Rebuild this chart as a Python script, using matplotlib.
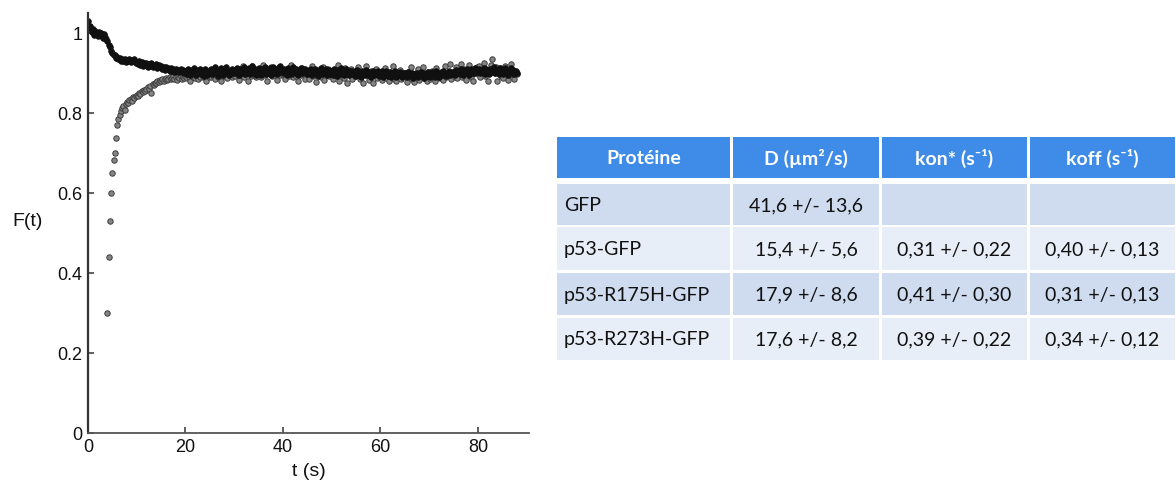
import numpy as np
import matplotlib
matplotlib.use("Agg")
import matplotlib.pyplot as plt
from matplotlib.patches import Rectangle

# ---------------- data ----------------
dt = 0.25
dark_start = 0.0
# F(t) x 1000 for the dark (filled) series, one value every 0.25 s from 0 s
dark_permille = [
    1030, 1012, 1018, 1003, 1010, 996, 1006, 1000, 992, 1003, 995, 999, 988, 997, 991, 986, 980, 969, 964, 955,
    950, 944, 945, 938, 940, 934, 938, 931, 936, 929, 935, 928, 933, 930, 936, 927, 933, 929, 935, 926,
    928, 922, 930, 920, 927, 918, 926, 921, 924, 916, 923, 918, 925, 914, 921, 917, 922, 912, 919, 915,
    917, 909, 916, 907, 914, 910, 912, 905, 913, 906, 911, 903, 910, 905, 908, 902, 909, 904, 907, 900,
    906, 898, 910, 901, 895, 908, 899, 912, 903, 894, 907, 900, 911, 897, 904, 893, 909, 902, 896, 906,
    903, 911, 897, 906, 914, 899, 908, 893, 905, 912, 900, 896, 909, 915, 901, 906, 894, 904, 911, 899,
    908, 899, 913, 903, 895, 910, 901, 906, 916, 897, 909, 903, 912, 898, 905, 917, 900, 910, 896, 906,
    912, 902, 896, 909, 904, 916, 898, 907, 901, 913, 895, 905, 914, 899, 910, 897, 908, 903, 917, 904,
    901, 910, 905, 896, 913, 902, 908, 898, 915, 906, 900, 911, 894, 907, 903, 912, 899, 905, 910, 900,
    898, 907, 901, 911, 895, 904, 909, 899, 906, 893, 902, 912, 897, 904, 900, 909, 895, 903, 907, 898,
    904, 895, 909, 900, 893, 907, 902, 897, 912, 904, 896, 900, 910, 902, 894, 906, 898, 905, 900, 892,
    900, 907, 896, 903, 891, 905, 899, 894, 908, 901, 896, 903, 890, 900, 906, 894, 902, 897, 904, 892,
    897, 904, 890, 900, 895, 906, 893, 898, 902, 889, 900, 896, 905, 891, 898, 894, 903, 897, 890, 901,
    894, 899, 889, 903, 896, 892, 901, 887, 897, 895, 900, 890, 897, 902, 892, 899, 888, 897, 893, 902,
    897, 890, 902, 894, 899, 891, 904, 897, 890, 900, 895, 906, 896, 901, 892, 899, 904, 894, 901, 897,
    903, 896, 908, 900, 905, 897, 910, 902, 895, 907, 900, 911, 904, 896, 909, 901, 906, 899, 912, 903,
    904, 911, 899, 907, 902, 913, 898, 909, 903, 897, 911, 902, 906, 915, 899, 908, 903, 897, 912, 902,
    906, 898, 912, 901, 908, 896, 904, 913, 899, 907, 897, 904, 900,
]

grey_start = 4.0
# F(t) x 1000 for the grey (open) series, one value every 0.25 s from 4 s
grey_permille = [
    300, 440, 530, 600,
    650, 682, 700, 737, 770, 784, 795, 805, 812, 818, 808, 822, 828, 825, 832, 836, 830, 840, 838, 843,
    846, 842, 851, 848, 855, 852, 858, 855, 861, 864, 860, 868, 850, 872, 870, 876, 874, 880, 878, 883,
    881, 886, 879, 884, 888, 882, 886, 890, 884, 888, 892, 885, 889, 883, 891, 887, 893, 886, 890, 888,
    892, 887, 894, 889, 880, 893, 890, 896, 888, 892, 886, 895, 890, 897, 889, 893, 899, 881, 894, 891,
    896, 889, 898, 893, 884, 895, 900, 891, 897, 880, 894, 899, 892, 896, 888, 901, 894, 898, 890, 895,
    899, 892, 904, 896, 882, 901, 895, 917, 890, 898, 903, 880, 897, 902, 893, 918, 896, 900, 889, 904,
    897, 906, 891, 901, 920, 894, 899, 879, 903, 897, 914, 892, 900, 895, 905, 883, 899, 916, 894, 902,
    896, 904, 885, 900, 907, 893, 898, 919, 890, 902, 896, 905, 879, 899, 903, 894, 913, 897, 886, 901,
    898, 884, 904, 895, 917, 892, 900, 878, 903, 896, 908, 891, 899, 915, 883, 902, 895, 909, 893, 897,
    901, 886, 905, 894, 899, 921, 879, 903, 896, 900, 887, 912, 898, 876, 902, 895, 909, 884, 899, 904,
    893, 900, 915, 884, 897, 903, 876, 899, 918, 894, 901, 882, 904, 896, 875, 900, 911, 888, 898, 903,
    895, 883, 902, 897, 913, 887, 899, 879, 903, 895, 918, 885, 898, 881, 901, 894, 908, 884, 897, 900,
    892, 899, 878, 903, 895, 914, 886, 897, 877, 900, 893, 910, 883, 898, 895, 916, 887, 899, 879, 902,
    896, 884, 904, 893, 900, 879, 913, 895, 899, 887, 903, 882, 897, 918, 889, 900, 894, 922, 885, 898,
    902, 891, 914, 887, 904, 897, 923, 889, 900, 910, 883, 903, 898, 920, 891, 902, 880, 911, 899, 916,
    898, 918, 889, 905, 900, 926, 892, 903, 881, 907, 901, 921, 935, 904, 899, 915, 879, 902, 912, 893,
    903, 887, 917, 899, 905, 882, 902, 923, 896, 904, 886, 900, 898,
]

x_ticks = [0, 20, 40, 60, 80]
y_ticks = [0, 0.2, 0.4, 0.6, 0.8, 1.0]
y_tick_labels = ["0", "0.2", "0.4", "0.6", "0.8", "1"]
x_label = "t (s)"
y_label = "F(t)"

table_header = ["Protéine", "D (µm²/s)", "kon* (s⁻¹)", "koff (s⁻¹)"]
proteins = ["GFP", "p53-GFP", "p53-R175H-GFP", "p53-R273H-GFP"]
D_values = ["41,6 +/- 13,6", "15,4 +/- 5,6", "17,9 +/- 8,6", "17,6 +/- 8,2"]
kon_values = ["", "0,31 +/- 0,22", "0,41 +/- 0,30", "0,39 +/- 0,22"]
koff_values = ["", "0,40 +/- 0,13", "0,31 +/- 0,13", "0,34 +/- 0,12"]

# ---------------- figure ----------------
W, H = 1176, 487
fig = plt.figure(figsize=(W / 100, H / 100), dpi=100)
fig.patch.set_facecolor("white")

ax = fig.add_axes([88 / W, 1 - 433 / H, (529 - 88) / W, (433 - 13) / H])

dark_F = np.array(dark_permille) / 1000.0
dark_t = dark_start + dt * np.arange(len(dark_F))
grey_F = np.array(grey_permille) / 1000.0
grey_t = grey_start + dt * np.arange(len(grey_F))

ax.plot(grey_t, grey_F, linestyle="none", marker="o", markersize=3.9,
        markerfacecolor="#858585", markeredgecolor="#3c3c3c", markeredgewidth=0.7)
ax.plot(dark_t, dark_F, linestyle="none", marker="o", markersize=4.1,
        markerfacecolor="#101010", markeredgecolor="#101010", markeredgewidth=0.5)

ax.set_xlim(0, 90.5)
ax.set_ylim(0, 1.05)
ax.set_xticks(x_ticks)
ax.set_yticks(y_ticks)
ax.set_yticklabels(y_tick_labels)
for s in ["top", "right"]:
    ax.spines[s].set_visible(False)
ax.spines["left"].set_color("#333333")
ax.spines["left"].set_linewidth(1.6)
ax.spines["bottom"].set_color("#555555")
ax.spines["bottom"].set_linewidth(1.3)
ax.tick_params(direction="in", length=4, width=1.1, colors="#333333",
               labelsize=13, labelcolor="#111111", pad=4)
for lab in ax.get_xticklabels() + ax.get_yticklabels():
    lab.set_family("Liberation Sans")
ax.set_xlabel(x_label, fontsize=14, family="Liberation Sans", color="#111111", labelpad=5)
fig.text(28 / W, 1 - 222 / H, y_label, fontsize=14, family="Liberation Sans",
         color="#111111", ha="center", va="center")

# ---------------- table ----------------
tax = fig.add_axes([0, 0, 1, 1])
tax.set_xlim(0, W)
tax.set_ylim(H, 0)
tax.axis("off")

col_left = [557, 733, 882, 1030]
col_right = [730, 879, 1027, 1175]
row_top = [137, 184, 227, 273, 318]
row_bottom = [178, 225, 270, 315, 360]
header_color = "#3e8be8"
row_colors = ["#cfdcf0", "#e8eef7", "#cfdcf0", "#e8eef7"]
tfont = ["Lato", "DejaVu Sans"]
fs = 14

columns = [proteins, D_values, kon_values, koff_values]
for c in range(4):
    x0, x1 = col_left[c], col_right[c]
    y0, y1 = row_top[0], row_bottom[0]
    tax.add_patch(Rectangle((x0, y0), x1 - x0, y1 - y0, color=header_color, lw=0))
    tax.text((x0 + x1) / 2, (y0 + y1) / 2 + 1, table_header[c], color="white",
             fontsize=fs, fontweight="bold", family=tfont, ha="center", va="center")
    for r in range(4):
        y0, y1 = row_top[r + 1], row_bottom[r + 1]
        tax.add_patch(Rectangle((x0, y0), x1 - x0, y1 - y0, color=row_colors[r], lw=0))
        txt = columns[c][r]
        if c == 0:
            tax.text(x0 + 7, (y0 + y1) / 2 + 1, txt, color="#111111", fontsize=fs,
                     family=tfont, ha="left", va="center")
        else:
            tax.text((x0 + x1) / 2, (y0 + y1) / 2 + 1, txt, color="#111111",
                     fontsize=fs, family=tfont, ha="center", va="center")

fig.savefig("out.png", dpi=100, facecolor="white")
